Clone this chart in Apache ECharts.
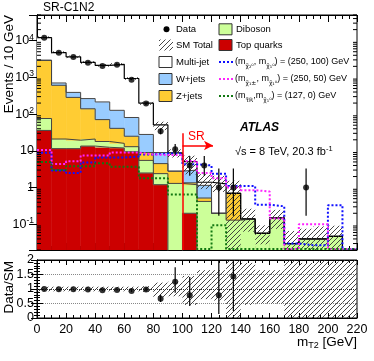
<!DOCTYPE html>
<html>
<head>
<meta charset="utf-8">
<script src="https://cdn.jsdelivr.net/npm/echarts@6/dist/echarts.min.js"></script>
<style>
html,body{margin:0;padding:0;background:#fff;}
#main{width:374px;height:361px;}
</style>
</head>
<body>
<div id="main"></div>
<script>
// bin edges of the mT2 histogram (GeV)
var binEdges = [0,10,20,30,40,50,60,70,80,90,100,110,120,130,140,150,160,170,180,190,200,210,220];

// observed events and their (asymmetric) error bars
var dataCounts = [12100,4700,3600,2500,2050,2200,870,195,34,11,4,4,1,1,0,0,0,0,1,0,0,0];
var dataErrUp  = [110,69,61,51,46,48,30,15,6.9,4.4,3.2,3.2,2.3,2.3,0,0,0,0,2.3,0,0,0];
var dataErrDn  = [110,69,60,50,45,47,29,14,5.8,3.3,1.9,1.9,0.83,0.83,0,0,0,0,0.83,0,0,0];

// backgrounds, stacked bottom -> top
var topQuarks = [36,11.5,11.5,13.5,12.5,12,9.5,2.5,1.2,0,0.2,0,0,0,0,0,0,0,0,0,0,0];
var diboson   = [40,9.5,8,7.5,5.5,4,3.5,3,1.2,1.3,1.0,0.42,0.2,0.13,0.14,0.057,0.15,0.03,0.04,0.04,0.047,0];
var zJets     = [2824,589,266,119,53,25,12,3.5,2.1,1.5,0.15,0.1,0,0.57,0,0,0,0,0,0,0,0];
var wJets     = [50,95,105,125,144,86,56,19,4.5,0,1.65,0.63,0,0,0,0,0,0,0,0,0,0];
var multiJet  = [9150,4045,3250,2285,1920,2143,854,171,42,6,2.1,0.25,1.07,0,0,0,0,0,0,0,0,0];

// relative uncertainty of SM total (hatched band)
var sysUp = [0.08,0.08,0.08,0.08,0.08,0.08,0.08,0.1,0.22,0.25,0.45,0.65,0.65,1.2,0.9,0.65,0.65,1.2,0.9,1.2,0.95,1.2];
var sysDn = [0.08,0.08,0.08,0.08,0.08,0.08,0.08,0.1,0.28,0.25,0.55,0.35,0.4,1,0.55,0.5,0.5,1,1,1,1,1];

// signal benchmarks
var sigC1N2 = [8.9,2.9,2.5,4.8,6.6,6.6,7.0,8.0,8.5,8.5,4.3,4.0,2.4,1.1,1.1,0.34,0.31,0.03,0.027,0.027,0.33,0];
var sigC1C1 = [10.5,4.4,5.2,7.5,7.5,9,9,8,7.7,7.7,5.3,2.5,1.8,1.0,0.85,0.78,0.145,0,0.1,0.1,0,0];
var sigStau = [5.0,3.0,3.8,3.8,4.6,3.7,3.7,1.8,1.8,0.65,0.65,0,0.095,0,0,0,0,0,0,0,0,0];

// axis ticks
var logTickValues = [0.1,1,10,100,1000,10000];
var logTickLabels = ['{b|10}{e|-1}','{b|1}','{b|10}','{b|10}{e|2}','{b|10}{e|3}','{b|10}{e|4}'];
var logMinorMult = [2,3,4,5,6,7,8,9];
var logDecades = [0.01,0.1,1,10,100,1000,10000];

var yMin = 0.02, yMax = 50000;
var FONT = 'Liberation Sans';

var chart = echarts.init(document.getElementById('main'));

// hatch pattern "////"
function makeHatch(color, size) {
	var c = document.createElement('canvas');
	c.width = size; c.height = size;
	var ctx = c.getContext('2d');
	ctx.strokeStyle = color;
	ctx.lineWidth = 0.9;
	ctx.beginPath();
	ctx.moveTo(0, size); ctx.lineTo(size, 0);
	ctx.moveTo(-1, 1); ctx.lineTo(1, -1);
	ctx.moveTo(size - 1, size + 1); ctx.lineTo(size + 1, size - 1);
	ctx.stroke();
	return c;
}
var hatch = {image: makeHatch('#333', 5), repeat: 'repeat'};

var nBins = binEdges.length - 1;
var stackOrder = [topQuarks, diboson, zJets, wJets, multiJet];
var stackColors = ['#cc0000', '#ccff99', '#ffcc33', '#99ccff', '#ffffff'];

// cumulative levels
var cumLevels = [];
var running = [];
for (var i = 0; i < nBins; i++) running.push(0);
stackOrder.forEach(function (vals) {
	running = running.map(function (r, i) { return r + vals[i]; });
	cumLevels.push(running.slice());
});
var smTotal = cumLevels[cumLevels.length - 1];

function rectItem(fill) {
	return function (params, api) {
		var p0 = api.coord([api.value(0), api.value(3)]);
		var p1 = api.coord([api.value(1), api.value(2)]);
		return {
			type: 'rect',
			shape: {x: p0[0], y: p0[1], width: p1[0] - p0[0], height: p1[1] - p0[1]},
			style: fill === hatch ? {fill: hatch} : {fill: fill, stroke: fill, lineWidth: 0.5}
		};
	};
}

function stepData(vals, floor) {
	var out = vals.map(function (v, i) { return [binEdges[i], v > 0 ? v : floor]; });
	out.push([binEdges[nBins], out[nBins - 1][1]]);
	return out;
}

function vbarItem(params, api) {
	var a = api.coord([api.value(0), api.value(1)]);
	var b = api.coord([api.value(0), api.value(2)]);
	return {type: 'line', shape: {x1: a[0], y1: a[1], x2: b[0], y2: b[1]}, style: {stroke: '#000', lineWidth: 1.2}};
}

var series = [];

// stacked fills
stackOrder.forEach(function (vals, k) {
	var items = [];
	for (var i = 0; i < nBins; i++) {
		if (vals[i] <= 0) continue;
		var lo = k === 0 ? yMin : Math.max(yMin, cumLevels[k - 1][i]);
		items.push([binEdges[i], binEdges[i + 1], lo, cumLevels[k][i]]);
	}
	series.push({
		type: 'custom', xAxisIndex: 0, yAxisIndex: 0, z: 1, clip: true,
		encode: {x: [0, 1], y: [2, 3]},
		renderItem: rectItem(stackColors[k]), data: items
	});
});

// outlines of the stack
cumLevels.forEach(function (lev, k) {
	var top = k === cumLevels.length - 1;
	series.push({
		type: 'line', xAxisIndex: 0, yAxisIndex: 0, z: 2, step: 'end', showSymbol: false, silent: true,
		data: stepData(lev, 1e-4),
		lineStyle: {color: top ? '#000' : '#444', width: top ? 1.2 : 1}
	});
});

// SM total uncertainty (top)
var bandTop = [];
for (var i = 0; i < nBins; i++) {
	if (smTotal[i] <= 0) continue;
	bandTop.push([binEdges[i], binEdges[i + 1], Math.max(yMin, smTotal[i] * (1 - sysDn[i])), smTotal[i] * (1 + sysUp[i])]);
}
series.push({
	type: 'custom', xAxisIndex: 0, yAxisIndex: 0, z: 3, clip: true,
	encode: {x: [0, 1], y: [2, 3]}, renderItem: rectItem(hatch), data: bandTop
});

// signals
[[sigC1N2, '#1010ff'], [sigC1C1, '#ff22ff'], [sigStau, '#117711']].forEach(function (s) {
	series.push({
		type: 'line', xAxisIndex: 0, yAxisIndex: 0, z: 4, step: 'end', showSymbol: false, silent: true,
		data: stepData(s[0], yMin * 1.06),
		lineStyle: {color: s[1], width: 2, type: 'dotted'}
	});
});

// data points + errors (top)
var pts = [], errs = [];
for (var i = 0; i < nBins; i++) {
	if (dataCounts[i] <= 0) continue;
	var c = (binEdges[i] + binEdges[i + 1]) / 2;
	pts.push([c, dataCounts[i]]);
	errs.push([c, dataCounts[i] - dataErrDn[i], dataCounts[i] + dataErrUp[i]]);
}
series.push({
	type: 'custom', xAxisIndex: 0, yAxisIndex: 0, z: 6, clip: true,
	encode: {x: 0, y: [1, 2]}, renderItem: vbarItem, data: errs
});
series.push({
	type: 'scatter', xAxisIndex: 0, yAxisIndex: 0, z: 7, symbolSize: 6,
	itemStyle: {color: '#000'}, data: pts,
	markLine: {
		silent: true, animation: false, symbol: ['none', 'none'],
		label: {show: false},
		lineStyle: {color: '#ff0000', width: 1.5, type: 'solid'},
		data: [
			[{coord: [100, 30]}, {coord: [100, yMin]}],
			[{coord: [100, 14]}, {coord: [121, 14], symbol: 'arrow', symbolSize: [7, 9]}]
		]
	}
});

// log minor ticks (left and right)
var minorTicks = [];
logDecades.forEach(function (d) {
	logMinorMult.forEach(function (m) {
		var v = d * m;
		if (v > yMin * 0.999 && v < yMax * 1.001) minorTicks.push([0, v]);
	});
});
series.push({
	type: 'custom', xAxisIndex: 0, yAxisIndex: 0, z: 8, silent: true,
	encode: {x: 0, y: 1}, data: minorTicks,
	renderItem: function (params, api) {
		var cs = params.coordSys;
		var y = api.coord([0, api.value(1)])[1];
		return {type: 'group', children: [
			{type: 'line', shape: {x1: cs.x, y1: y, x2: cs.x + 4, y2: y}, style: {stroke: '#000', lineWidth: 1}},
			{type: 'line', shape: {x1: cs.x + cs.width - 4, y1: y, x2: cs.x + cs.width, y2: y}, style: {stroke: '#000', lineWidth: 1}}
		]};
	}
});

// ratio panel
var ratioBand = [], ratioPts = [], ratioErr = [];
for (var i = 0; i < nBins; i++) {
	ratioBand.push([binEdges[i], binEdges[i + 1], Math.max(0, 1 - sysDn[i]), Math.min(2, 1 + sysUp[i])]);
	if (dataCounts[i] > 0 && smTotal[i] > 0) {
		var r = dataCounts[i] / smTotal[i];
		if (r > 2) continue;
		var c = (binEdges[i] + binEdges[i + 1]) / 2;
		ratioPts.push([c, r]);
		ratioErr.push([c, (dataCounts[i] - dataErrDn[i]) / smTotal[i], (dataCounts[i] + dataErrUp[i]) / smTotal[i]]);
	}
}
series.push({
	type: 'custom', xAxisIndex: 2, yAxisIndex: 2, z: 3, clip: true,
	encode: {x: [0, 1], y: [2, 3]}, renderItem: rectItem(hatch), data: ratioBand
});
series.push({
	type: 'custom', xAxisIndex: 2, yAxisIndex: 2, z: 6, clip: true,
	encode: {x: 0, y: [1, 2]}, renderItem: vbarItem, data: ratioErr
});
series.push({
	type: 'scatter', xAxisIndex: 2, yAxisIndex: 2, z: 7, symbolSize: 6,
	itemStyle: {color: '#000'}, data: ratioPts,
	markLine: {
		silent: true, animation: false, symbol: ['none', 'none'], label: {show: false},
		lineStyle: {color: '#333', width: 1, type: 'dotted'},
		data: [{yAxis: 1}]
	}
});

function xAxisDef(grid, pos, showLabel, tickLen, minorLen) {
	return {
		gridIndex: grid, type: 'value', position: pos, min: 0, max: 220, interval: 20,
		axisLine: {show: true, onZero: false, lineStyle: {color: '#000', width: 1}},
		axisTick: {show: true, inside: true, length: tickLen, lineStyle: {color: '#000'}},
		minorTick: {show: true, splitNumber: 4, length: minorLen, lineStyle: {color: '#000'}},
		axisLabel: {show: showLabel, color: '#000', fontSize: 12.5, margin: 5, fontFamily: FONT},
		splitLine: {show: false}
	};
}
function logAxisDef(pos, showLabel) {
	return {
		gridIndex: 0, type: 'log', logBase: 10, position: pos, min: yMin, max: yMax,
		axisLine: {show: true, lineStyle: {color: '#000', width: 1}},
		axisTick: {show: true, inside: true, length: 8, lineStyle: {color: '#000'}},
		axisLabel: {
			show: showLabel, margin: 3, color: '#000', fontFamily: FONT,
			showMinLabel: false, showMaxLabel: false,
			formatter: function (v) {
				for (var i = 0; i < logTickValues.length; i++) {
					if (Math.abs(Math.log10(v) - Math.log10(logTickValues[i])) < 1e-6) return logTickLabels[i];
				}
				return '';
			},
			rich: {
				b: {fontSize: 12.5, lineHeight: 16, fontFamily: FONT, color: '#000', verticalAlign: 'middle'},
				e: {fontSize: 8.5, lineHeight: 9, fontFamily: FONT, color: '#000', verticalAlign: 'top'}
			}
		},
		splitLine: {show: false}
	};
}
function ratioAxisDef(pos, showLabel) {
	return {
		gridIndex: 1, type: 'value', position: pos, min: 0, max: 2, interval: 0.5,
		axisLine: {show: true, lineStyle: {color: '#000', width: 1}},
		axisTick: {show: true, inside: true, length: 6, lineStyle: {color: '#000'}},
		minorTick: {show: true, splitNumber: 5, length: 3, lineStyle: {color: '#000'}},
		axisLabel: {show: showLabel, margin: 3, color: '#000', fontSize: 12.5, fontFamily: FONT},
		splitLine: {show: showLabel, lineStyle: {color: '#888', type: 'dotted', width: 1}}
	};
}

function legendBox(x, y, fill) {
	return {type: 'rect', shape: {x: x, y: y - 5.5, width: 13, height: 11},
		style: {fill: fill, stroke: '#333', lineWidth: 1}, z: 100};
}
function legendText(x, y, txt) {
	return {type: 'text', x: x, y: y, z: 100,
		style: {text: txt, fontSize: 9.5, fontFamily: FONT, fill: '#000',
			align: 'left', textAlign: 'left', verticalAlign: 'middle', textVerticalAlign: 'middle'}};
}
function legendDots(x, y, color) {
	return {type: 'line', shape: {x1: x, y1: y, x2: x + 14, y2: y}, z: 100,
		style: {stroke: color, lineWidth: 2, lineDash: [2, 2]}};
}
var subRich = {
	s: {fontSize: 6, lineHeight: 7, fontFamily: 'DejaVu Sans', fill: '#000', verticalAlign: 'bottom'}
};
function sigText(x, y, txt) {
	return {type: 'text', x: x, y: y, z: 100,
		style: {text: txt, fontSize: 9, lineHeight: 14, fontFamily: FONT, fill: '#000',
			align: 'left', textAlign: 'left', verticalAlign: 'middle', textVerticalAlign: 'middle', rich: subRich}};
}

var graphic = [
	{type: 'text', x: 43, y: 8, style: {text: 'SR-C1N2', fontSize: 12, fontFamily: FONT, fill: '#000',
		align: 'left', textAlign: 'left', verticalAlign: 'middle', textVerticalAlign: 'middle'}},
	{type: 'text', x: 9, y: 15, rotation: Math.PI / 2, style: {text: 'Events / 10 GeV', fontSize: 13.5, fontFamily: FONT, fill: '#000',
		align: 'right', textAlign: 'right', verticalAlign: 'middle', textVerticalAlign: 'middle'}},
	{type: 'text', x: 9, y: 261, rotation: Math.PI / 2, style: {text: 'Data/SM', fontSize: 13.5, fontFamily: FONT, fill: '#000',
		align: 'right', textAlign: 'right', verticalAlign: 'middle', textVerticalAlign: 'middle'}},
	{type: 'text', x: 357, y: 342, style: {text: 'm{s|T2} [GeV]', fontSize: 13.5, lineHeight: 16, fontFamily: FONT, fill: '#000',
		align: 'right', textAlign: 'right', verticalAlign: 'middle', textVerticalAlign: 'middle',
		rich: {s: {fontSize: 9, lineHeight: 9, fontFamily: FONT, fill: '#000', verticalAlign: 'bottom'}}}},
	{type: 'text', x: 240, y: 128, style: {text: 'ATLAS', font: 'italic bold 12px "Liberation Sans"', fill: '#000',
		align: 'left', textAlign: 'left', verticalAlign: 'middle', textVerticalAlign: 'middle'}},
	{type: 'text', x: 235, y: 152, style: {text: '\u221As = 8 TeV, 20.3 fb{e|-1}', fontSize: 11, lineHeight: 14, fontFamily: FONT, fill: '#000',
		align: 'left', textAlign: 'left', verticalAlign: 'middle', textVerticalAlign: 'middle',
		rich: {e: {fontSize: 7.5, lineHeight: 8, fontFamily: FONT, fill: '#000', verticalAlign: 'top'}}}},
	{type: 'text', x: 188, y: 137, style: {text: 'SR', fontSize: 12, fontFamily: FONT, fill: '#ff0000',
		align: 'left', textAlign: 'left', verticalAlign: 'middle', textVerticalAlign: 'middle'}},

	// legend column 1
	{type: 'circle', shape: {cx: 166.5, cy: 29.3, r: 3}, style: {fill: '#000'}, z: 100},
	legendText(176, 29.3, 'Data'),
	{type: 'rect', shape: {x: 159, y: 39.5, width: 14, height: 11}, style: {fill: hatch}, z: 100},
	legendText(176, 45, 'SM Total'),
	legendBox(159, 62, '#ffffff'),
	legendText(176, 62, 'Multi-jet'),
	legendBox(159, 79, '#99ccff'),
	legendText(176, 79, 'W+jets'),
	legendBox(159, 96, '#ffcc33'),
	legendText(176, 96, 'Z+jets'),
	// legend column 2
	legendBox(219, 29.3, '#ccff99'),
	legendText(236, 29.3, 'Diboson'),
	legendBox(219, 45, '#cc0000'),
	legendText(236, 45, 'Top quarks'),
	legendDots(219, 62, '#1010ff'),
	sigText(235, 62, '(m{s|\u03C7\u0303\u2082\u2070}, m{s|\u03C7\u0303\u2081\u2070}) = (250, 100) GeV'),
	legendDots(219, 79, '#ff22ff'),
	sigText(235, 79, '(m{s|\u03C7\u0303\u2081\u00B1}, m{s|\u03C7\u0303\u2081\u2070}) = (250, 50) GeV'),
	legendDots(219, 96, '#117711'),
	sigText(235, 96, '(m{s|\u03C4\u0303R},m{s|\u03C7\u0303\u2081\u2070}) = (127, 0) GeV')
];

var option = {
	animation: false,
	backgroundColor: '#fff',
	textStyle: {fontFamily: FONT},
	grid: [
		{left: 37, right: 17, top: 15, height: 235, show: true, borderColor: '#000', borderWidth: 1, outerBoundsMode: 'none'},
		{left: 37, right: 17, top: 260, height: 58, show: true, borderColor: '#000', borderWidth: 1, outerBoundsMode: 'none'}
	],
	xAxis: [
		xAxisDef(0, 'bottom', false, 7, 4),
		xAxisDef(0, 'top', false, 7, 4),
		xAxisDef(1, 'bottom', true, 5, 3),
		xAxisDef(1, 'top', false, 5, 3)
	],
	yAxis: [
		logAxisDef('left', true),
		logAxisDef('right', false),
		ratioAxisDef('left', true),
		ratioAxisDef('right', false)
	],
	graphic: graphic,
	series: series
};

chart.setOption(option);
window.onresize = chart.resize;
</script>
</body>
</html>
